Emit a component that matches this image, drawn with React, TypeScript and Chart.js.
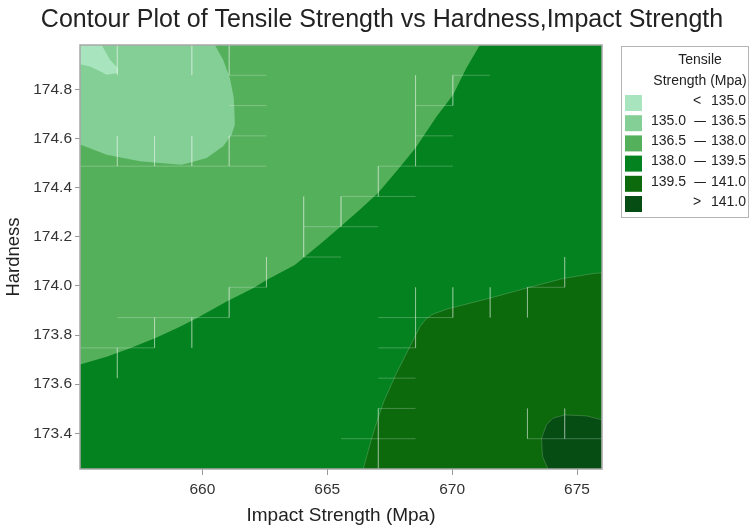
import React, { useEffect, useRef } from "react";
import { Chart, registerables } from "chart.js";

Chart.register(...registerables);

const FONT = "'Liberation Sans', Arial, Helvetica, sans-serif";

// Axis extents
const impactRange = [655.1, 676.0];
const hardnessRange = [173.255, 174.98];

const impactTicks = [660, 665, 670, 675];
const hardnessTicks = [173.4, 173.6, 173.8, 174.0, 174.2, 174.4, 174.6, 174.8];

// Contour levels of tensile strength and the fill colour of each band
const levels = [135.0, 136.5, 138.0, 139.5, 141.0];
const bandColors = ["#a8e5be", "#84cf95", "#55b05c", "#04821f", "#0c6a0d", "#064d14"];

// Contour lines, as [impact strength, hardness] pairs
const contour135 = [
  [655.97, 174.98], [656.3, 174.92], [656.61, 174.886], [656.61, 174.866],
  [656.17, 174.859], [655.9, 174.873], [655.5, 174.893], [655.1, 174.902],
];
const contour1365 = [
  [660.5, 174.98], [660.83, 174.92], [661.1, 174.846], [661.26, 174.764],
  [661.3, 174.656], [661.17, 174.615], [660.83, 174.568], [660.17, 174.52],
  [659.7, 174.507], [659.17, 174.493], [658.3, 174.5], [657.5, 174.507],
  [656.17, 174.534], [655.1, 174.575],
];
const contour138 = [
  [655.1, 173.68], [656.17, 173.712], [657.1, 173.746], [658.17, 173.79],
  [659.1, 173.834], [659.77, 173.868], [660.97, 173.936], [662.03, 173.99],
  [662.57, 174.024], [663.7, 174.085], [664.1, 174.119], [664.84, 174.181],
  [665.57, 174.245], [666.3, 174.31], [667.04, 174.379], [667.83, 174.473],
  [668.57, 174.566], [669.37, 174.688], [670.04, 174.778], [670.57, 174.886],
  [671.11, 174.98],
];
const contour1395 = [
  [666.44, 173.255], [666.77, 173.377], [667.04, 173.464], [667.26, 173.529],
  [667.77, 173.645], [668.31, 173.753], [668.71, 173.834], [668.95, 173.865],
  [669.19, 173.883], [669.77, 173.905], [671.51, 173.95], [672.98, 173.991],
  [674.44, 174.03], [675.64, 174.05], [676.0, 174.053],
];
const contour141 = [
  [673.84, 173.255], [673.62, 173.306], [673.58, 173.38], [673.78, 173.435],
  [674.04, 173.462], [674.51, 173.475], [675.38, 173.471], [676.0, 173.455],
];

// Interpolation mesh: 14 x 14 cells over the axis extents; edges as [col1,row1,col2,row2]
const meshCells = 14;
const meshEdges = [
  [1, 0, 1, 1], [3, 0, 3, 1], [4, 0, 4, 1], [4, 1, 5, 1], [4, 2, 5, 2], [4, 3, 5, 3],
  [0, 4, 5, 4], [1, 3, 1, 4], [2, 3, 2, 4], [3, 3, 3, 4], [4, 3, 4, 4],
  [10, 1, 11, 1], [10, 1, 10, 2], [9, 1, 9, 4], [9, 2, 10, 2], [9, 3, 10, 3],
  [8, 4, 10, 4], [8, 4, 8, 5], [7, 5, 9, 5], [7, 5, 7, 6], [6, 6, 8, 6], [6, 5, 6, 7],
  [6, 7, 7, 7], [5, 7, 5, 8], [4, 8, 5, 8], [4, 8, 4, 9], [1, 9, 4, 9], [2, 9, 2, 10],
  [3, 9, 3, 10], [0, 10, 2, 10], [1, 10, 1, 11],
  [13, 7, 13, 8], [12, 8, 13, 8], [12, 8, 12, 9], [11, 8, 11, 9], [10, 8, 10, 9],
  [9, 8, 9, 10], [8, 9, 10, 9], [8, 10, 9, 10], [8, 11, 9, 11], [8, 12, 9, 12],
  [8, 12, 8, 14], [7, 13, 9, 13], [12, 12, 12, 13], [13, 12, 13, 13], [12, 13, 14, 13],
];

const TITLE = "Contour Plot of Tensile Strength vs Hardness,Impact Strength";
const X_TITLE = "Impact Strength (Mpa)";
const Y_TITLE = "Hardness";
const LEGEND_TITLE = ["Tensile", "Strength (Mpa)"];

type P = { x: number; y: number | null };

function toPoints(arr: number[][]): P[] {
  return arr.map(([x, y]) => ({ x, y }));
}

function buildDatasets() {
  const [x0, x1] = impactRange;
  const [y0, y1] = hardnessRange;
  const gx = (i: number) => x0 + (i * (x1 - x0)) / meshCells;
  const gy = (j: number) => y1 - (j * (y1 - y0)) / meshCells;

  const meshPts: P[] = [];
  meshEdges.forEach(([i1, j1, i2, j2]) => {
    meshPts.push({ x: gx(i1), y: gy(j1) }, { x: gx(i2), y: gy(j2) }, { x: gx(i2), y: null });
  });

  const region = (pts: P[], band: number, edge = false) => ({
    data: pts,
    showLine: true,
    fill: "shape",
    backgroundColor: bandColors[band],
    borderColor: edge ? "rgba(255,255,255,0.18)" : "rgba(0,0,0,0)",
    borderWidth: edge ? 1 : 0,
    pointRadius: 0,
    pointHoverRadius: 0,
    tension: 0,
  });

  // first dataset is drawn on top
  return [
    {
      data: meshPts,
      showLine: true,
      fill: false,
      spanGaps: false,
      borderColor: "rgba(255,255,255,0.24)",
      borderWidth: 1,
      pointRadius: 0,
      pointHoverRadius: 0,
    },
    region([...toPoints(contour141), { x: x1, y: y0 }], 5, true),
    region([...toPoints(contour1395), { x: x1, y: y0 }], 4, true),
    region([...toPoints(contour135), { x: x0, y: y1 }], 0),
    region([...toPoints(contour1365), { x: x0, y: y1 }], 1),
    region([...toPoints(contour138), { x: x0, y: y1 }], 2),
    region([{ x: x0, y: y0 }, { x: x1, y: y0 }, { x: x1, y: y1 }, { x: x0, y: y1 }], 3),
  ];
}

const heading = {
  id: "heading",
  afterDraw(chart: any) {
    const { ctx } = chart;
    ctx.save();
    ctx.fillStyle = "#222";
    ctx.font = `25px ${FONT}`;
    ctx.textAlign = "center";
    ctx.textBaseline = "middle";
    ctx.fillText(TITLE, 382, 20);
    ctx.restore();
  },
};

const frame = {
  id: "plotFrame",
  afterDatasetsDraw(chart: any) {
    const { ctx, chartArea: a } = chart;
    ctx.save();
    ctx.strokeStyle = "#a8a8a8";
    ctx.lineWidth = 1.5;
    ctx.strokeRect(a.left, a.top, a.right - a.left, a.bottom - a.top);
    ctx.restore();
  },
};

const bandLegend = {
  id: "bandLegend",
  afterDraw(chart: any) {
    const { ctx, chartArea: a } = chart;
    const left = a.right + 19;
    const top = a.top + 1;
    const w = 127;
    const h = 171;
    ctx.save();
    ctx.strokeStyle = "#b4b4b4";
    ctx.lineWidth = 1;
    ctx.strokeRect(left + 0.5, top + 0.5, w, h);
    ctx.fillStyle = "#222";
    ctx.font = `14px ${FONT}`;
    ctx.textBaseline = "middle";
    ctx.textAlign = "center";
    LEGEND_TITLE.forEach((t, i) => ctx.fillText(t, left + 79, top + 14 + i * 21.5));

    const labels: [string, string, string][] = [];
    labels.push(["", "<", levels[0].toFixed(1)]);
    for (let i = 0; i < levels.length - 1; i++) {
      labels.push([levels[i].toFixed(1), "\u2013", levels[i + 1].toFixed(1)]);
    }
    labels.push(["", ">", levels[levels.length - 1].toFixed(1)]);

    labels.forEach(([lo, mid, hi], i) => {
      const cy = top + 57 + i * 20.2;
      ctx.fillStyle = bandColors[i];
      ctx.fillRect(left + 4, cy - 8, 17, 16);
      ctx.fillStyle = "#222";
      ctx.textAlign = "left";
      if (lo) ctx.fillText(lo, left + 30, cy - 2);
      ctx.textAlign = "center";
      if (lo) {
        ctx.save();
        ctx.translate(left + 79, cy - 2);
        ctx.scale(1.5, 1);
        ctx.fillText(mid, 0, 0);
        ctx.restore();
      } else {
        ctx.fillText(mid, left + 76, cy - 2);
      }
      ctx.textAlign = "right";
      ctx.fillText(hi, left + 125, cy - 2);
    });
    ctx.restore();
  },
};

export default function App() {
  const ref = useRef<HTMLCanvasElement | null>(null);

  useEffect(() => {
    if (!ref.current) return;
    Chart.defaults.font.family = FONT;
    const chart = new Chart(ref.current, {
      type: "scatter",
      data: { datasets: buildDatasets() as any },
      plugins: [heading, frame, bandLegend],
      options: {
        animation: false,
        responsive: false,
        devicePixelRatio: 1,
        events: [],
        layout: { padding: { left: 0, right: 150, top: 45, bottom: 0 } },
        plugins: {
          legend: { display: false },
          tooltip: { enabled: false },
          title: { display: false },
        },
        scales: {
          x: {
            type: "linear",
            min: impactRange[0],
            max: impactRange[1],
            afterBuildTicks: (s: any) => {
              s.ticks = impactTicks.map((v) => ({ value: v }));
            },
            afterFit: (s: any) => {
              s.height = 61;
            },
            ticks: {
              color: "#333",
              font: { size: 15.5, family: FONT },
              padding: 5,
              callback: (v: any) => String(v),
            },
            grid: { drawOnChartArea: false, drawTicks: true, tickLength: 6, color: "#9a9a9a" },
            border: { display: false },
            title: {
              display: true,
              text: X_TITLE,
              color: "#222",
              font: { size: 19, family: FONT },
              padding: { top: 0, bottom: 3 },
            },
          },
          y: {
            type: "linear",
            min: hardnessRange[0],
            max: hardnessRange[1],
            afterBuildTicks: (s: any) => {
              s.ticks = hardnessTicks.map((v) => ({ value: v }));
            },
            afterFit: (s: any) => {
              s.width = 80;
            },
            ticks: {
              color: "#333",
              font: { size: 15.5, family: FONT },
              padding: 3,
              callback: (v: any) => Number(v).toFixed(1),
            },
            grid: { drawOnChartArea: false, drawTicks: true, tickLength: 5, color: "#9a9a9a" },
            border: { display: false },
            title: {
              display: true,
              text: Y_TITLE,
              color: "#222",
              font: { size: 18.5, family: FONT },
              padding: { top: 3, bottom: 0 },
            },
          },
        },
      } as any,
    });
    return () => chart.destroy();
  }, []);

  return (
    <div style={{ position: "absolute", left: 0, top: 0, width: 752, height: 530, background: "#fff" }}>
      <canvas ref={ref} width={752} height={530} />
    </div>
  );
}
